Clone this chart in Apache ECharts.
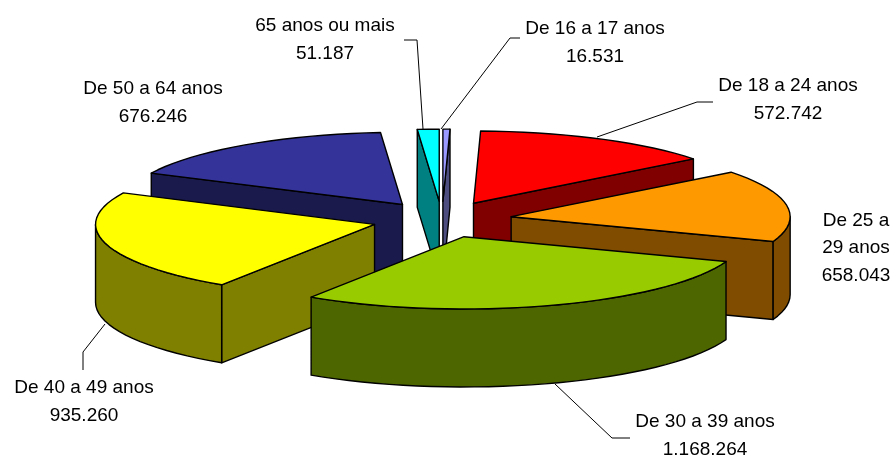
<!DOCTYPE html>
<html>
<head>
<meta charset="utf-8">
<style>html,body{margin:0;padding:0;background:#fff}</style>
<script src="https://cdn.jsdelivr.net/npm/echarts@6/dist/echarts.min.js"></script>
</head>
<body>
<div id="chart" style="width:893px;height:457px"></div>
<script>
// valores
var categories = ['De 16 a 17 anos', 'De 18 a 24 anos', 'De 25 a\n29 anos', 'De 30 a 39 anos', 'De 40 a 49 anos', 'De 50 a 64 anos', '65 anos ou mais']
var values = [16531, 572742, 658043, 1168264, 935260, 676246, 51187]
var topColors = ['#9999FF', '#FF0000', '#FF9900', '#99CC00', '#FFFF00', '#333399', '#00FFFF']
var wallColors = ['#4D4D80', '#800000', '#804D00', '#4D6600', '#808000', '#1A1A4D', '#008080']
// ordem de pintura, de tras para frente
var drawRank = [1, 2, 4, 6, 5, 3, 0]
// centro do rotulo e linha de chamada
var labelCenters = [[595, 43], [788, 100], [856, 248], [705, 436], [84, 402], [153, 103], [325, 40]]
var leaderLines = [
  [[441, 129], [510, 38], [520, 38]],
  [[597, 137], [697, 102], [713, 102]],
  null,
  [[555, 384], [612, 438], [630, 438]],
  [[105, 324], [83, 352], [83, 370]],
  null,
  [[423, 129], [417, 40], [404, 40]]
]

var cx = 442, cy = 219.5, radius = 279, tilt = 0.259, explode = 70, depth = 78
var total = values.reduce(function (a, b) { return a + b }, 0)

function formatValue(v) {
  return String(v).replace(/\B(?=(\d{3})+$)/g, '.')
}

function pt(ax, ay, ang, r, dy) {
  var rad = ang * Math.PI / 180
  return [ax + r * Math.sin(rad), ay - r * Math.cos(rad) * tilt + (dy || 0)]
}

function arc(ax, ay, from, to, dy) {
  var pts = [], n = Math.max(1, Math.ceil((to - from) / 3))
  for (var i = 0; i <= n; i++) {
    pts.push(pt(ax, ay, from + (to - from) * i / n, radius, dy))
  }
  return pts
}

function face(points, color, z2) {
  return {
    type: 'polygon',
    shape: { points: points },
    style: { fill: color, stroke: '#000', lineWidth: 1.4, lineJoin: 'round' },
    z2: z2
  }
}

function renderSlice(params, api) {
  var i = params.dataIndex
  var before = 0
  for (var k = 0; k < i; k++) before += values[k]
  var from = before / total * 360
  var to = from + api.value(1) / total * 360
  var mid = (from + to) / 2 * Math.PI / 180
  var ax = cx + explode * Math.sin(mid)
  var ay = cy - explode * Math.cos(mid) * tilt
  var z = drawRank[i] * 10
  var children = []

  // paredes radiais, so as voltadas para frente
  function wall(ang, n) {
    var p = pt(ax, ay, ang, radius)
    var q = pt(ax, ay, ang, radius, depth)
    children.push(face([[ax, ay], p, q, [ax, ay + depth]], wallColors[i], z + n))
  }
  if (Math.sin(from * Math.PI / 180) < 0) wall(from, 0)
  if (Math.sin(to * Math.PI / 180) > 0) wall(to, 1)
  // parede externa
  var a = Math.max(from, 90), b = Math.min(to, 270)
  if (b > a) {
    children.push(face(arc(ax, ay, a, b, 0).concat(arc(ax, ay, a, b, depth).reverse()), wallColors[i], z + 2))
  }
  // tampo
  children.push(face([[ax, ay]].concat(arc(ax, ay, from, to, 0)), topColors[i], z + 3))

  return { type: 'group', children: children }
}

function renderLabel(params, api) {
  var i = params.dataIndex
  var children = [{
    type: 'text',
    style: {
      x: labelCenters[i][0],
      y: labelCenters[i][1],
      text: categories[i] + '\n' + formatValue(api.value(1)),
      font: '19px "Liberation Sans", Arial, sans-serif',
      lineHeight: 27.5,
      fill: '#000',
      align: 'center',
      verticalAlign: 'middle'
    },
    z2: 200
  }]
  if (leaderLines[i]) {
    children.push({
      type: 'polyline',
      shape: { points: leaderLines[i] },
      style: { fill: null, stroke: '#000', lineWidth: 1 },
      z2: 100
    })
  }
  return { type: 'group', children: children }
}

var seriesData = values.map(function (v, i) { return [i, v] })

var myChart = echarts.init(document.getElementById('chart'), null, { renderer: 'canvas' })
myChart.setOption({
  animation: false,
  backgroundColor: '#fff',
  series: [
    { type: 'custom', coordinateSystem: 'none', silent: true, renderItem: renderSlice, data: seriesData },
    { type: 'custom', coordinateSystem: 'none', silent: true, renderItem: renderLabel, data: seriesData }
  ]
})
</script>
</body>
</html>
